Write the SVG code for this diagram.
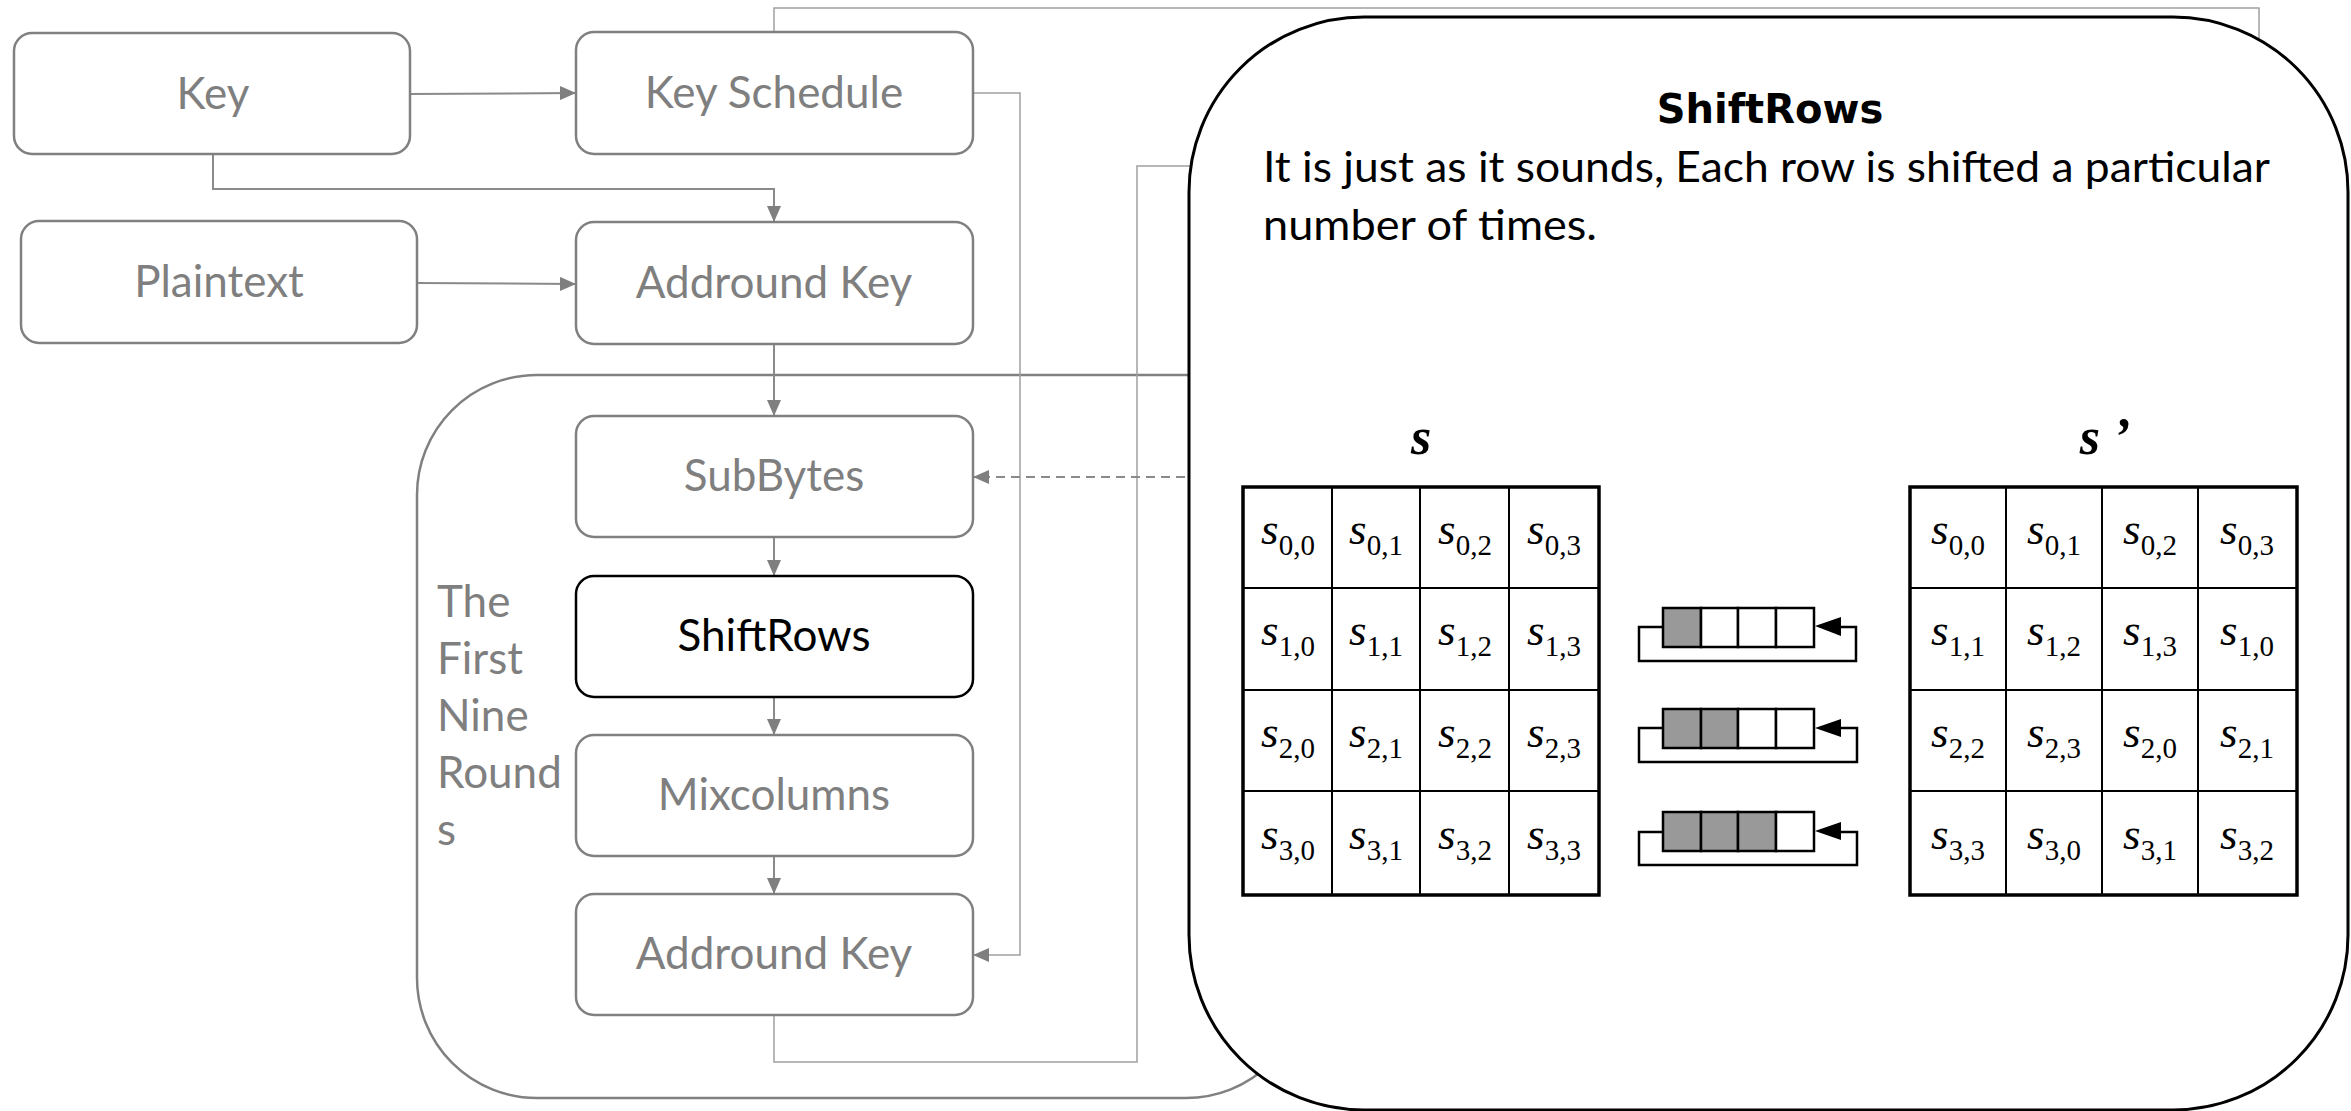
<svg xmlns="http://www.w3.org/2000/svg" width="2351" height="1111" viewBox="0 0 2351 1111">
  <style>
    .node { fill: #ffffff; stroke: #808080; stroke-width: 2.5; }
    .node-active { fill: #ffffff; stroke: #000000; stroke-width: 2.5; }
    .label { font-family: Lato, "Liberation Sans", sans-serif; font-size: 44px; fill: #7f7f7f; text-anchor: middle; }
    .label-active { fill: #000000; }
    .wire { fill: none; stroke: #8a8a8a; stroke-width: 2; }
    .wire-thin { fill: none; stroke: #a0a0a0; stroke-width: 1.5; }
    .dashed { stroke-dasharray: 9 6; }
    .body { font-family: Lato, "Liberation Sans", sans-serif; font-size: 43px; fill: #000000; }
    .title { font-family: "DejaVu Sans", sans-serif; font-weight: bold; font-size: 40px; fill: #000000; text-anchor: middle; }
    .cell { font-family: "Liberation Serif", serif; font-size: 45px; fill: #000000; text-anchor: middle; }
    .cell .i { font-style: italic; }
    .cell .sub { font-size: 29px; }
    .mhead { font-family: "Liberation Serif", serif; font-size: 52px; font-style: italic; font-weight: bold; fill: #000000; text-anchor: middle; }
    .gridOuter { fill: #ffffff; stroke: #000000; stroke-width: 3.5; }
    .gridLine { stroke: #000000; stroke-width: 2; }
    .reg { fill: #ffffff; stroke: #000000; stroke-width: 2.5; }
    .regOn { fill: #999999; stroke: #000000; stroke-width: 2.5; }
    .loop { fill: none; stroke: #000000; stroke-width: 2.5; }
  </style>
  <defs>
    <marker id="arr" viewBox="0 0 16 14" refX="16" refY="7" markerWidth="16" markerHeight="14" orient="auto" markerUnits="userSpaceOnUse">
      <path d="M0,0 L16,7 L0,14 z" fill="#7f7f7f"/>
    </marker>
  </defs>

  <rect width="2351" height="1111" fill="#ffffff"/>

  <!-- round container -->
  <g id="rounds">
    <rect x="417" y="375" width="889" height="723" rx="120" ry="120" fill="none" stroke="#808080" stroke-width="2.5"/>
    <text class="label" style="text-anchor:start" x="437" y="617">The</text>
    <text class="label" style="text-anchor:start" x="437" y="674">First</text>
    <text class="label" style="text-anchor:start" x="437" y="731">Nine</text>
    <text class="label" style="text-anchor:start" x="437" y="788">Round</text>
    <text class="label" style="text-anchor:start" x="437" y="845">s</text>
  </g>

  <!-- connectors -->
  <g id="connectors">
    <path class="wire" d="M409,94 L576,93" marker-end="url(#arr)"/>
    <path class="wire" d="M213,155 V189 H774 V222" marker-end="url(#arr)"/>
    <path class="wire" d="M417,283 L576,284" marker-end="url(#arr)"/>
    <path class="wire-thin" d="M774,32 V8 H2259 V120"/>
    <path class="wire-thin" d="M973,93 H1020 V955 H973" marker-end="url(#arr)"/>
    <path class="wire" d="M774,344 V416" marker-end="url(#arr)"/>
    <path class="wire" d="M774,538 V576" marker-end="url(#arr)"/>
    <path class="wire" d="M774,697 V735" marker-end="url(#arr)"/>
    <path class="wire" d="M774,856 V894" marker-end="url(#arr)"/>
    <path class="wire-thin" d="M774,1015 V1062 H1137 V166 H1220"/>
    <path class="wire dashed" d="M1200,477 H973" marker-end="url(#arr)"/>
  </g>

  <!-- flow nodes -->
  <g id="key">
    <rect class="node" x="14" y="33" width="396" height="121" rx="18"/>
    <text class="label" x="213" y="109">Key</text>
  </g>
  <g id="key-schedule">
    <rect class="node" x="576" y="32" width="397" height="122" rx="18"/>
    <text class="label" x="774" y="108">Key Schedule</text>
  </g>
  <g id="plaintext">
    <rect class="node" x="21" y="221" width="396" height="122" rx="18"/>
    <text class="label" x="219" y="297">Plaintext</text>
  </g>
  <g id="addround-key-initial">
    <rect class="node" x="576" y="222" width="397" height="122" rx="18"/>
    <text class="label" x="774" y="298">Addround Key</text>
  </g>
  <g id="subbytes">
    <rect class="node" x="576" y="416" width="397" height="121" rx="18"/>
    <text class="label" x="774" y="491">SubBytes</text>
  </g>
  <g id="shiftrows">
    <rect class="node-active" x="576" y="576" width="397" height="121" rx="18"/>
    <text class="label label-active" x="774" y="651">ShiftRows</text>
  </g>
  <g id="mixcolumns">
    <rect class="node" x="576" y="735" width="397" height="121" rx="18"/>
    <text class="label" x="774" y="810">Mixcolumns</text>
  </g>
  <g id="addround-key">
    <rect class="node" x="576" y="894" width="397" height="121" rx="18"/>
    <text class="label" x="774" y="969">Addround Key</text>
  </g>

  <!-- ShiftRows detail callout -->
  <g id="shiftrows-detail">
    <rect x="1189" y="17" width="1159" height="1093" rx="175" ry="175" fill="#ffffff" stroke="#000000" stroke-width="3"/>
    <text class="title" x="1770" y="123">ShiftRows</text>
    <text class="body" x="1263" y="182" textLength="1007" lengthAdjust="spacingAndGlyphs">It is just as it sounds, Each row is shifted a particular</text>
    <text class="body" x="1263" y="240" textLength="334" lengthAdjust="spacingAndGlyphs">number of times.</text>

    <!-- state s -->
    <text class="mhead" x="1421" y="454">s</text>
    <rect class="gridOuter" x="1243" y="487" width="356" height="408"/>
    <path class="gridLine" d="M1332,487 V895 M1420,487 V895 M1509,487 V895 M1243,588 H1599 M1243,690 H1599 M1243,791 H1599"/>
    <g class="cell">
      <text x="1288" y="544"><tspan class="i">s</tspan><tspan class="sub" dy="11">0,0</tspan></text>
      <text x="1376" y="544"><tspan class="i">s</tspan><tspan class="sub" dy="11">0,1</tspan></text>
      <text x="1465" y="544"><tspan class="i">s</tspan><tspan class="sub" dy="11">0,2</tspan></text>
      <text x="1554" y="544"><tspan class="i">s</tspan><tspan class="sub" dy="11">0,3</tspan></text>
      <text x="1288" y="645"><tspan class="i">s</tspan><tspan class="sub" dy="11">1,0</tspan></text>
      <text x="1376" y="645"><tspan class="i">s</tspan><tspan class="sub" dy="11">1,1</tspan></text>
      <text x="1465" y="645"><tspan class="i">s</tspan><tspan class="sub" dy="11">1,2</tspan></text>
      <text x="1554" y="645"><tspan class="i">s</tspan><tspan class="sub" dy="11">1,3</tspan></text>
      <text x="1288" y="747"><tspan class="i">s</tspan><tspan class="sub" dy="11">2,0</tspan></text>
      <text x="1376" y="747"><tspan class="i">s</tspan><tspan class="sub" dy="11">2,1</tspan></text>
      <text x="1465" y="747"><tspan class="i">s</tspan><tspan class="sub" dy="11">2,2</tspan></text>
      <text x="1554" y="747"><tspan class="i">s</tspan><tspan class="sub" dy="11">2,3</tspan></text>
      <text x="1288" y="849"><tspan class="i">s</tspan><tspan class="sub" dy="11">3,0</tspan></text>
      <text x="1376" y="849"><tspan class="i">s</tspan><tspan class="sub" dy="11">3,1</tspan></text>
      <text x="1465" y="849"><tspan class="i">s</tspan><tspan class="sub" dy="11">3,2</tspan></text>
      <text x="1554" y="849"><tspan class="i">s</tspan><tspan class="sub" dy="11">3,3</tspan></text>
    </g>

    <!-- rotation registers -->
    <g id="shift-1">
      <path class="loop" d="M1663,627 H1639 V661 H1856 V627 H1838"/>
      <rect class="regOn" x="1663" y="608" width="38" height="39"/>
      <rect class="reg" x="1701" y="608" width="37" height="39"/>
      <rect class="reg" x="1738" y="608" width="38" height="39"/>
      <rect class="reg" x="1776" y="608" width="38" height="39"/>
      <polygon points="1815,626 1841,617 1841,636" fill="#000000"/>
    </g>
    <g id="shift-2">
      <path class="loop" d="M1663,728 H1639 V762 H1857 V728 H1838"/>
      <rect class="regOn" x="1663" y="709" width="38" height="39"/>
      <rect class="regOn" x="1701" y="709" width="37" height="39"/>
      <rect class="reg" x="1738" y="709" width="38" height="39"/>
      <rect class="reg" x="1776" y="709" width="38" height="39"/>
      <polygon points="1815,728 1841,719 1841,737" fill="#000000"/>
    </g>
    <g id="shift-3">
      <path class="loop" d="M1663,832 H1639 V865 H1857 V832 H1838"/>
      <rect class="regOn" x="1663" y="812" width="38" height="39"/>
      <rect class="regOn" x="1701" y="812" width="37" height="39"/>
      <rect class="regOn" x="1738" y="812" width="38" height="39"/>
      <rect class="reg" x="1776" y="812" width="38" height="39"/>
      <polygon points="1815,831 1841,822 1841,840" fill="#000000"/>
    </g>

    <!-- state s' -->
    <text class="mhead" x="2105" y="454">s ’</text>
    <rect class="gridOuter" x="1910" y="487" width="387" height="408"/>
    <path class="gridLine" d="M2006,487 V895 M2102,487 V895 M2198,487 V895 M1910,588 H2297 M1910,690 H2297 M1910,791 H2297"/>
    <g class="cell">
      <text x="1958" y="544"><tspan class="i">s</tspan><tspan class="sub" dy="11">0,0</tspan></text>
      <text x="2054" y="544"><tspan class="i">s</tspan><tspan class="sub" dy="11">0,1</tspan></text>
      <text x="2150" y="544"><tspan class="i">s</tspan><tspan class="sub" dy="11">0,2</tspan></text>
      <text x="2247" y="544"><tspan class="i">s</tspan><tspan class="sub" dy="11">0,3</tspan></text>
      <text x="1958" y="645"><tspan class="i">s</tspan><tspan class="sub" dy="11">1,1</tspan></text>
      <text x="2054" y="645"><tspan class="i">s</tspan><tspan class="sub" dy="11">1,2</tspan></text>
      <text x="2150" y="645"><tspan class="i">s</tspan><tspan class="sub" dy="11">1,3</tspan></text>
      <text x="2247" y="645"><tspan class="i">s</tspan><tspan class="sub" dy="11">1,0</tspan></text>
      <text x="1958" y="747"><tspan class="i">s</tspan><tspan class="sub" dy="11">2,2</tspan></text>
      <text x="2054" y="747"><tspan class="i">s</tspan><tspan class="sub" dy="11">2,3</tspan></text>
      <text x="2150" y="747"><tspan class="i">s</tspan><tspan class="sub" dy="11">2,0</tspan></text>
      <text x="2247" y="747"><tspan class="i">s</tspan><tspan class="sub" dy="11">2,1</tspan></text>
      <text x="1958" y="849"><tspan class="i">s</tspan><tspan class="sub" dy="11">3,3</tspan></text>
      <text x="2054" y="849"><tspan class="i">s</tspan><tspan class="sub" dy="11">3,0</tspan></text>
      <text x="2150" y="849"><tspan class="i">s</tspan><tspan class="sub" dy="11">3,1</tspan></text>
      <text x="2247" y="849"><tspan class="i">s</tspan><tspan class="sub" dy="11">3,2</tspan></text>
    </g>
  </g>
</svg>
